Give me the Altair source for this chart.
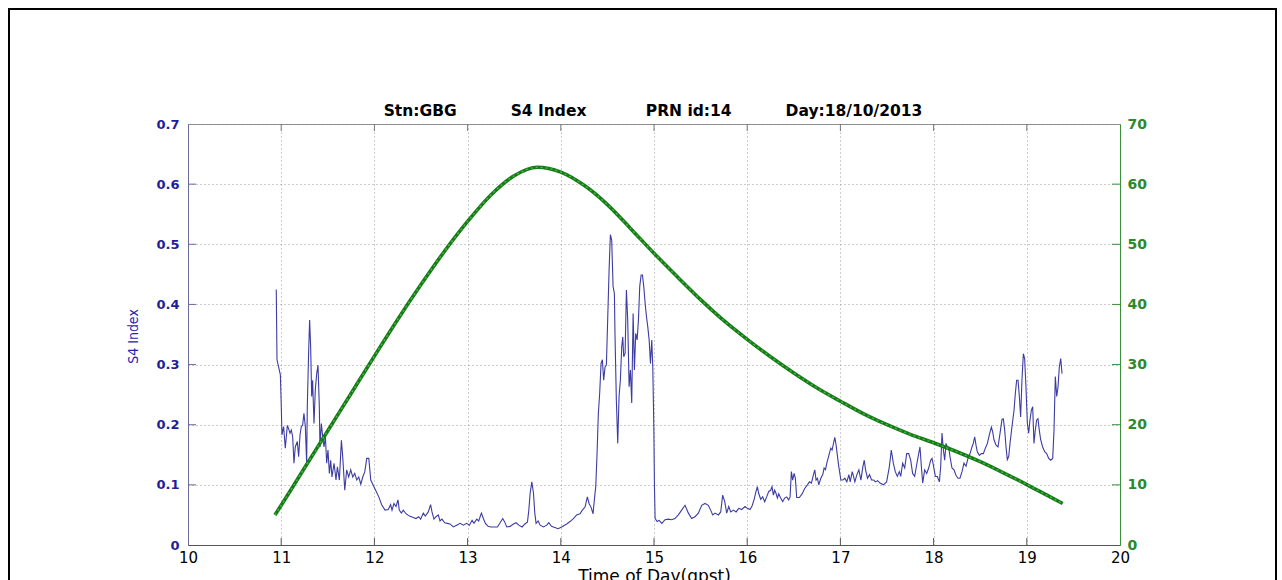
import altair as alt
import pandas as pd

# ---------------- data ----------------
s4_hours = [
    10.947, 10.955, 10.991, 11.001, 11.008, 11.026, 11.044, 11.066, 11.080, 11.094, 11.109, 11.123, 11.137,
    11.151, 11.173, 11.187, 11.202, 11.216, 11.230, 11.244, 11.259, 11.273, 11.280, 11.294, 11.305, 11.316,
    11.327, 11.337, 11.352, 11.366, 11.381, 11.395, 11.409, 11.416, 11.431, 11.445, 11.459, 11.474, 11.488,
    11.502, 11.517, 11.531, 11.545, 11.567, 11.588, 11.603, 11.624, 11.646, 11.660, 11.682, 11.703, 11.724,
    11.746, 11.768, 11.789, 11.811, 11.832, 11.854, 11.875, 11.897, 11.918, 11.940, 11.961, 12.004, 12.047,
    12.078, 12.114, 12.149, 12.174, 12.189, 12.210, 12.232, 12.253, 12.267, 12.289, 12.310, 12.339, 12.375,
    12.410, 12.446, 12.475, 12.496, 12.525, 12.546, 12.578, 12.603, 12.618, 12.639, 12.661, 12.686, 12.704,
    12.725, 12.754, 12.783, 12.811, 12.847, 12.883, 12.919, 12.955, 12.990, 13.019, 13.048, 13.069, 13.098,
    13.119, 13.148, 13.169, 13.191, 13.220, 13.249, 13.284, 13.320, 13.349, 13.377, 13.399, 13.420, 13.456,
    13.492, 13.520, 13.549, 13.585, 13.614, 13.642, 13.657, 13.671, 13.689, 13.707, 13.721, 13.735, 13.757,
    13.778, 13.814, 13.850, 13.871, 13.900, 13.936, 13.971,
    14.009, 14.063, 14.099, 14.135, 14.170, 14.206, 14.231, 14.260, 14.285, 14.303, 14.324, 14.346, 14.360,
    14.375, 14.389, 14.403, 14.417, 14.432, 14.446, 14.460, 14.475, 14.489, 14.503, 14.518, 14.532, 14.546,
    14.561, 14.575, 14.582, 14.596, 14.611, 14.625, 14.639, 14.654, 14.665, 14.675, 14.690, 14.704, 14.718,
    14.733, 14.747, 14.761, 14.776, 14.790, 14.804, 14.819, 14.833, 14.847, 14.862, 14.876, 14.890, 14.905,
    14.919, 14.933, 14.948, 14.962, 14.976, 14.987, 14.998, 15.005, 15.012, 15.034, 15.055, 15.084,
    15.118, 15.154, 15.189, 15.225, 15.261, 15.297, 15.333, 15.369, 15.404, 15.440, 15.476, 15.512, 15.547,
    15.583, 15.608, 15.630, 15.655, 15.691, 15.716, 15.737, 15.759, 15.780, 15.802, 15.823, 15.852, 15.881,
    15.909, 15.941, 15.977, 16.002, 16.030, 16.052, 16.073, 16.095, 16.109, 16.123, 16.145, 16.166, 16.188,
    16.209, 16.231, 16.252, 16.266, 16.281, 16.295, 16.309, 16.324, 16.338, 16.359, 16.381, 16.402, 16.424,
    16.445, 16.460, 16.474, 16.488, 16.503, 16.517, 16.531, 16.560, 16.589, 16.617, 16.646, 16.668, 16.689,
    16.711, 16.725, 16.739, 16.754, 16.768, 16.790, 16.811, 16.825, 16.840, 16.854, 16.868, 16.883, 16.897,
    16.911, 16.926, 16.940, 16.954, 16.969, 16.983, 17.005, 17.026, 17.048, 17.069, 17.091, 17.105, 17.127,
    17.141, 17.155, 17.177, 17.198, 17.220, 17.241, 17.256, 17.270, 17.291, 17.313, 17.334, 17.356, 17.377,
    17.399,
    17.425, 17.461, 17.496, 17.525, 17.546, 17.568, 17.589, 17.611, 17.632, 17.647, 17.668, 17.690, 17.711,
    17.733, 17.754, 17.775, 17.797, 17.818, 17.840, 17.854, 17.869, 17.883, 17.904, 17.926, 17.947, 17.969,
    17.983, 17.997, 18.019, 18.040, 18.062, 18.076, 18.090, 18.105, 18.119, 18.133, 18.148, 18.162, 18.176,
    18.197, 18.219, 18.240, 18.262, 18.283, 18.305, 18.326, 18.348, 18.369, 18.391, 18.412, 18.426, 18.441,
    18.455, 18.469, 18.491, 18.512, 18.534, 18.555, 18.577, 18.598, 18.620, 18.634, 18.648, 18.670, 18.691,
    18.713, 18.734, 18.748, 18.763, 18.777, 18.791, 18.806, 18.820, 18.841, 18.863, 18.877, 18.891, 18.906,
    18.920, 18.934, 18.948, 18.963, 18.977, 18.991, 19.006, 19.020, 19.034, 19.049, 19.063, 19.077, 19.091,
    19.106, 19.120, 19.134, 19.149, 19.170, 19.192, 19.213, 19.235, 19.256, 19.278, 19.292, 19.306, 19.321,
    19.335, 19.349, 19.364, 19.378,
]
s4_values = [
    0.425, 0.308, 0.283, 0.230, 0.183, 0.197, 0.161, 0.199, 0.193, 0.186, 0.191, 0.180, 0.136,
    0.163, 0.172, 0.147, 0.183, 0.197, 0.199, 0.219, 0.197, 0.136, 0.230, 0.319, 0.374, 0.330,
    0.247, 0.274, 0.202, 0.258, 0.285, 0.299, 0.230, 0.163, 0.202, 0.180, 0.163, 0.180, 0.136,
    0.158, 0.119, 0.141, 0.113, 0.136, 0.108, 0.130, 0.108, 0.174, 0.147, 0.091, 0.125, 0.113,
    0.125, 0.113, 0.119, 0.108, 0.113, 0.101, 0.113, 0.122, 0.144, 0.144, 0.108, 0.094, 0.080,
    0.067, 0.058, 0.059, 0.067, 0.058, 0.069, 0.064, 0.075, 0.058, 0.053, 0.058, 0.052, 0.048,
    0.046, 0.044, 0.047, 0.043, 0.053, 0.048, 0.055, 0.067, 0.055, 0.043, 0.047, 0.050, 0.040,
    0.043, 0.037, 0.036, 0.035, 0.030, 0.033, 0.036, 0.033, 0.036, 0.033, 0.041, 0.036, 0.043,
    0.040, 0.053, 0.044, 0.036, 0.031, 0.030, 0.030, 0.030, 0.037, 0.044, 0.038, 0.030, 0.031,
    0.035, 0.037, 0.033, 0.030, 0.035, 0.038, 0.058, 0.086, 0.105, 0.086, 0.053, 0.036, 0.040,
    0.033, 0.030, 0.033, 0.037, 0.031, 0.029, 0.027,
    0.030, 0.035, 0.039, 0.044, 0.050, 0.052, 0.058, 0.063, 0.080, 0.069, 0.063, 0.052, 0.075,
    0.097, 0.152, 0.219, 0.252, 0.302, 0.308, 0.274, 0.296, 0.299, 0.374, 0.457, 0.516, 0.507,
    0.430, 0.418, 0.346, 0.241, 0.169, 0.247, 0.274, 0.330, 0.346, 0.313, 0.319, 0.424, 0.374,
    0.263, 0.291, 0.236, 0.385, 0.291, 0.352, 0.341, 0.374, 0.430, 0.449, 0.449, 0.430, 0.402,
    0.380, 0.363, 0.341, 0.302, 0.341, 0.296, 0.197, 0.097, 0.044, 0.039, 0.041, 0.036,
    0.042, 0.043, 0.042, 0.044, 0.050, 0.058, 0.066, 0.053, 0.044, 0.047, 0.053, 0.066, 0.069,
    0.066, 0.058, 0.050, 0.053, 0.050, 0.055, 0.083, 0.072, 0.053, 0.064, 0.055, 0.058, 0.055,
    0.061, 0.059, 0.064, 0.061, 0.059, 0.065, 0.075, 0.089, 0.097, 0.086, 0.076, 0.080, 0.072,
    0.080, 0.089, 0.091, 0.097, 0.083, 0.091, 0.086, 0.078, 0.085, 0.078, 0.072, 0.078, 0.080,
    0.075, 0.080, 0.122, 0.108, 0.119, 0.111, 0.079, 0.079, 0.085, 0.094, 0.100, 0.105, 0.103,
    0.117, 0.125, 0.108, 0.111, 0.100, 0.111, 0.117, 0.128, 0.125, 0.136, 0.144, 0.153, 0.161,
    0.158, 0.169, 0.179, 0.166, 0.147, 0.130, 0.108, 0.108, 0.111, 0.105, 0.117, 0.105, 0.122,
    0.114, 0.105, 0.117, 0.125, 0.108, 0.130, 0.141, 0.125, 0.111, 0.117, 0.108, 0.108, 0.105,
    0.107,
    0.103, 0.100, 0.105, 0.130, 0.158, 0.136, 0.122, 0.114, 0.122, 0.114, 0.136, 0.128, 0.152,
    0.152, 0.141, 0.119, 0.114, 0.133, 0.152, 0.163, 0.130, 0.103, 0.125, 0.119, 0.128, 0.141,
    0.144, 0.133, 0.114, 0.114, 0.105, 0.130, 0.186, 0.158, 0.141, 0.169, 0.163, 0.163, 0.147,
    0.128, 0.125, 0.116, 0.111, 0.111, 0.122, 0.136, 0.131, 0.144, 0.152, 0.163, 0.169, 0.180,
    0.166, 0.155, 0.149, 0.152, 0.152, 0.161, 0.169, 0.183, 0.196, 0.188, 0.175, 0.166, 0.163,
    0.186, 0.209, 0.210, 0.191, 0.163, 0.142, 0.147, 0.169, 0.197, 0.224, 0.252, 0.274, 0.274,
    0.247, 0.213, 0.274, 0.318, 0.310, 0.263, 0.202, 0.186, 0.208, 0.224, 0.230, 0.169, 0.191,
    0.208, 0.210, 0.191, 0.175, 0.163, 0.155, 0.152, 0.144, 0.141, 0.144, 0.191, 0.280, 0.247,
    0.263, 0.296, 0.310, 0.285,
]

elev_hours = [10.933, 11.0, 11.25, 11.5, 11.75, 12.0, 12.25, 12.5, 12.75, 13.0, 13.25, 13.5, 13.75,
              14.0, 14.25, 14.5, 14.75, 15.0, 15.25, 15.5, 15.75, 16.0, 16.25, 16.5, 16.75, 17.0,
              17.25, 17.5, 17.75, 18.0, 18.25, 18.5, 18.75, 19.0, 19.25, 19.385]
elev_values = [5.0, 6.6, 12.8, 19.0, 25.2, 31.4, 37.5, 43.3, 48.8, 53.8, 58.2, 61.4, 62.8,
               62.0, 59.8, 56.6, 52.6, 48.5, 44.6, 40.8, 37.3, 34.2, 31.3, 28.6, 26.1, 23.9,
               21.8, 20.0, 18.4, 17.0, 15.5, 13.85, 12.0, 10.05, 8.0, 6.9]

x_ticks = [10, 11, 12, 13, 14, 15, 16, 17, 18, 19, 20]
s4_ticks = [0, 0.1, 0.2, 0.3, 0.4, 0.5, 0.6, 0.7]
elev_ticks = [0, 10, 20, 30, 40, 50, 60, 70]

title_parts = ["Stn:GBG", "S4 Index", "PRN id:14", "Day:18/10/2013"]

# ---------------- chart ----------------
W, H = 932, 421
NB = "\u00a0"
title_text = (NB * 10).join(title_parts[:2]) + NB * 11 + (NB * 10).join(title_parts[2:])

s4_df = pd.DataFrame({"t": s4_hours, "s4": s4_values})
el_df = pd.DataFrame({"t": elev_hours, "el": elev_values})

xscale = alt.Scale(domain=[10, 20], nice=False, zero=False)
yscale_l = alt.Scale(domain=[0, 0.7], nice=False)
yscale_r = alt.Scale(domain=[0, 70], nice=False)

grid_kw = dict(grid=True, gridColor="#9a9a9a", gridDash=[1, 3], gridWidth=1)

blue = alt.Chart(s4_df).mark_line(color="#3c3ca4", strokeWidth=1.1).encode(
    x=alt.X("t:Q", scale=xscale,
            axis=alt.Axis(values=x_ticks, format="d", title="Time of Day(gpst)", labelFont="DejaVu Sans",
                          labelFontSize=15, labelColor="#000000", labelPadding=5, labelFlush=False,
                          ticks=False, domainColor="#555555", titleFont="DejaVu Sans", titleFontSize=17,
                          titleFontWeight="normal", titleColor="#000000", titlePadding=3,
                          **grid_kw)),
    y=alt.Y("s4:Q", scale=yscale_l,
            axis=alt.Axis(values=s4_ticks, title="S4 Index",
                          labelExpr="datum.value == 0 ? '0' : format(datum.value, '.1f')",
                          labelFont="DejaVu Sans", labelFontWeight="bold", labelFontSize=13,
                          labelColor="#1e1e9c", labelPadding=9, labelFlush=False, ticks=False,
                          domainColor="#6a6a9c",
                          titleFont="DejaVu Sans Condensed, Liberation Sans Narrow, Liberation Sans",
                          titleFontSize=14, titleFontWeight="normal", titleColor="#2424b0",
                          titleAngle=-90, titleX=-51, titleY=212, titleAlign="center",
                          titleBaseline="alphabetic", **grid_kw)),
)

green_base = alt.Chart(el_df).encode(
    x=alt.X("t:Q", scale=xscale),
    y=alt.Y("el:Q", scale=yscale_r,
            axis=alt.Axis(values=elev_ticks, orient="right", title=None, grid=False,
                          labelFont="DejaVu Sans", labelFontWeight="bold", labelFontSize=14,
                          labelColor="#2b8a2b", labelPadding=7, labelFlush=False, ticks=False,
                          domainColor="#3a8f3a")),
)
green = green_base.mark_line(color="#157d15", strokeWidth=3.6, interpolate="monotone")
green_tex = green_base.mark_line(color="#52b452", strokeWidth=1.3, strokeDash=[2, 3],
                                 interpolate="monotone")

# inward tick stubs (MATLAB style)
xt_df = pd.DataFrame({"t": x_ticks[1:-1]})
yt_df = pd.DataFrame({"s4": s4_ticks[1:-1]})
et_df = pd.DataFrame({"el": elev_ticks[1:-1]})
tick_bottom = alt.Chart(xt_df).mark_rule(color="#555555").encode(
    x=alt.X("t:Q", scale=xscale), y=alt.value(H), y2=alt.value(H - 7))
tick_top = alt.Chart(xt_df).mark_rule(color="#777777").encode(
    x=alt.X("t:Q", scale=xscale), y=alt.value(0), y2=alt.value(7))
tick_left = alt.Chart(yt_df).mark_rule(color="#6a6a9c").encode(
    y=alt.Y("s4:Q", scale=yscale_l), x=alt.value(0), x2=alt.value(8))
tick_right = alt.Chart(et_df).mark_rule(color="#3a8f3a").encode(
    y=alt.Y("el:Q", scale=yscale_r), x=alt.value(W - 8), x2=alt.value(W))

# figure title as text, and the outer frame of the figure
title_mark = alt.Chart(alt.Data(values=[{"label": title_text}])).mark_text(
    font="DejaVu Sans", fontSize=15.5, fontWeight="bold", color="#000000",
    align="center", baseline="alphabetic").encode(
    text="label:N", x=alt.value(W / 2 - 1), y=alt.value(-8))
frame = alt.Chart(alt.Data(values=[{"f": 1}])).mark_rect(
    fill=None, stroke="#000000", strokeWidth=2).encode(
    x=alt.value(-179), x2=alt.value(1088), y=alt.value(-115), y2=alt.value(490))

left = alt.layer(blue, tick_bottom, tick_top, tick_left)
right = alt.layer(green, green_tex, tick_right)

chart = alt.layer(frame, title_mark, left, right).resolve_scale(y="independent").properties(
    width=W, height=H,
    autosize=alt.AutoSizeParams(type="none"),
    padding={"left": 188, "top": 124, "right": 162, "bottom": 35},
    background="#ffffff",
).configure_view(stroke="#8a8a8a", strokeWidth=1)

chart.save("out.html", embed_options={"renderer": "svg", "actions": False})
